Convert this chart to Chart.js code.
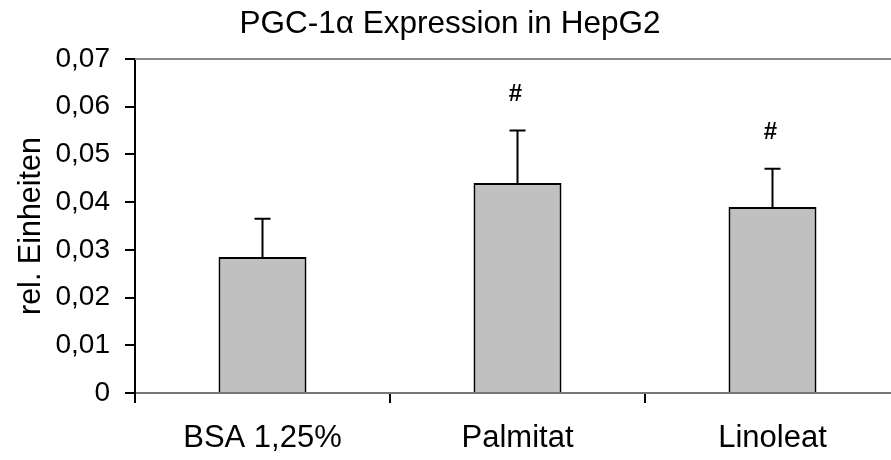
<!DOCTYPE html>
<html>
<head>
<meta charset="utf-8">
<title>PGC-1α Expression in HepG2</title>
<script src="https://cdn.jsdelivr.net/npm/chart.js@4"></script>
<style>
  html, body { margin: 0; padding: 0; background: #fff; overflow: hidden; }
  #chart { display: block; }
</style>
</head>
<body>
<canvas id="chart" width="905" height="460"></canvas>
<script>
// Data
const categories = ['BSA 1,25%', 'Palmitat', 'Linoleat'];
const means = [0.0285, 0.044, 0.039];
const errors = [0.008, 0.011, 0.008];   // upper error bar (SD)
const marks = ['', '#', '#'];           // significance vs. BSA
const yTicks = [0, 0.01, 0.02, 0.03, 0.04, 0.05, 0.06, 0.07];

const FONT = "'Liberation Sans', Arial, sans-serif";

function fmtTick(v) {
    return v === 0 ? '0' : v.toFixed(2).replace('.', ',');
}

// Error bars + "#" labels on top of the bars
const errorBarPlugin = {
    id: 'errorBars',
    afterDatasetsDraw(chart) {
        const ctx = chart.ctx;
        const y = chart.scales.y;
        const meta = chart.getDatasetMeta(0);
        ctx.save();
        ctx.strokeStyle = '#000';
        ctx.lineWidth = 2;
        meta.data.forEach((bar, i) => {
            const top = y.getPixelForValue(means[i] + errors[i]);
            ctx.beginPath();
            ctx.moveTo(bar.x, bar.y);
            ctx.lineTo(bar.x, top);
            ctx.moveTo(bar.x - 8, top);
            ctx.lineTo(bar.x + 8, top);
            ctx.stroke();
            if (marks[i]) {
                ctx.fillStyle = '#000';
                ctx.font = 'bold 24px ' + FONT;
                ctx.textAlign = 'center';
                ctx.textBaseline = 'middle';
                ctx.fillText(marks[i], bar.x - 2, top - 36);
            }
        });
        ctx.restore();
    }
};

// Gray frame line along the top of the plot area
const topLinePlugin = {
    id: 'topLine',
    beforeDatasetsDraw(chart) {
        const a = chart.chartArea;
        const ctx = chart.ctx;
        ctx.save();
        ctx.strokeStyle = '#888';
        ctx.lineWidth = 2;
        ctx.beginPath();
        ctx.moveTo(a.left, a.top);
        ctx.lineTo(chart.width, a.top);
        ctx.stroke();
        ctx.restore();
    }
};

new Chart(document.getElementById('chart'), {
    type: 'bar',
    data: {
        labels: categories,
        datasets: [{
            data: means,
            backgroundColor: '#c0c0c0',
            borderColor: '#000',
            borderWidth: 2,
            barPercentage: 0.345,
            categoryPercentage: 1
        }]
    },
    options: {
        responsive: false,
        animation: false,
        layout: { padding: { left: 0, right: 5, top: 0, bottom: 0 } },
        plugins: {
            legend: { display: false },
            tooltip: { enabled: false },
            title: {
                display: true,
                text: 'PGC-1α Expression in HepG2',
                color: '#000',
                font: { family: FONT, size: 31.5, weight: 'normal' },
                padding: { top: 5, bottom: 16.2 }
            }
        },
        scales: {
            x: {
                border: { color: '#777', width: 2 },
                grid: { drawOnChartArea: false, drawTicks: true, tickLength: 10, color: '#000', lineWidth: 2, offset: true },
                ticks: { color: '#000', font: { family: FONT, size: 31 }, padding: 17 },
                afterFit(s) { s.height = 67; }
            },
            y: {
                min: 0,
                max: 0.07,
                border: { color: '#000', width: 2 },
                grid: { drawOnChartArea: false, tickLength: 10, color: '#000', lineWidth: 2 },
                afterBuildTicks(s) { s.ticks = yTicks.map(v => ({ value: v })); },
                ticks: {
                    color: '#000',
                    font: { family: FONT, size: 28 },
                    padding: 15,
                    callback: v => fmtTick(v)
                },
                title: {
                    display: true,
                    text: 'rel. Einheiten',
                    color: '#000',
                    font: { family: FONT, size: 30.5 },
                    padding: { top: 13, bottom: 0 }
                },
                afterFit(s) { s.width = 135; }
            }
        }
    },
    plugins: [errorBarPlugin, topLinePlugin]
});
</script>
</body>
</html>
